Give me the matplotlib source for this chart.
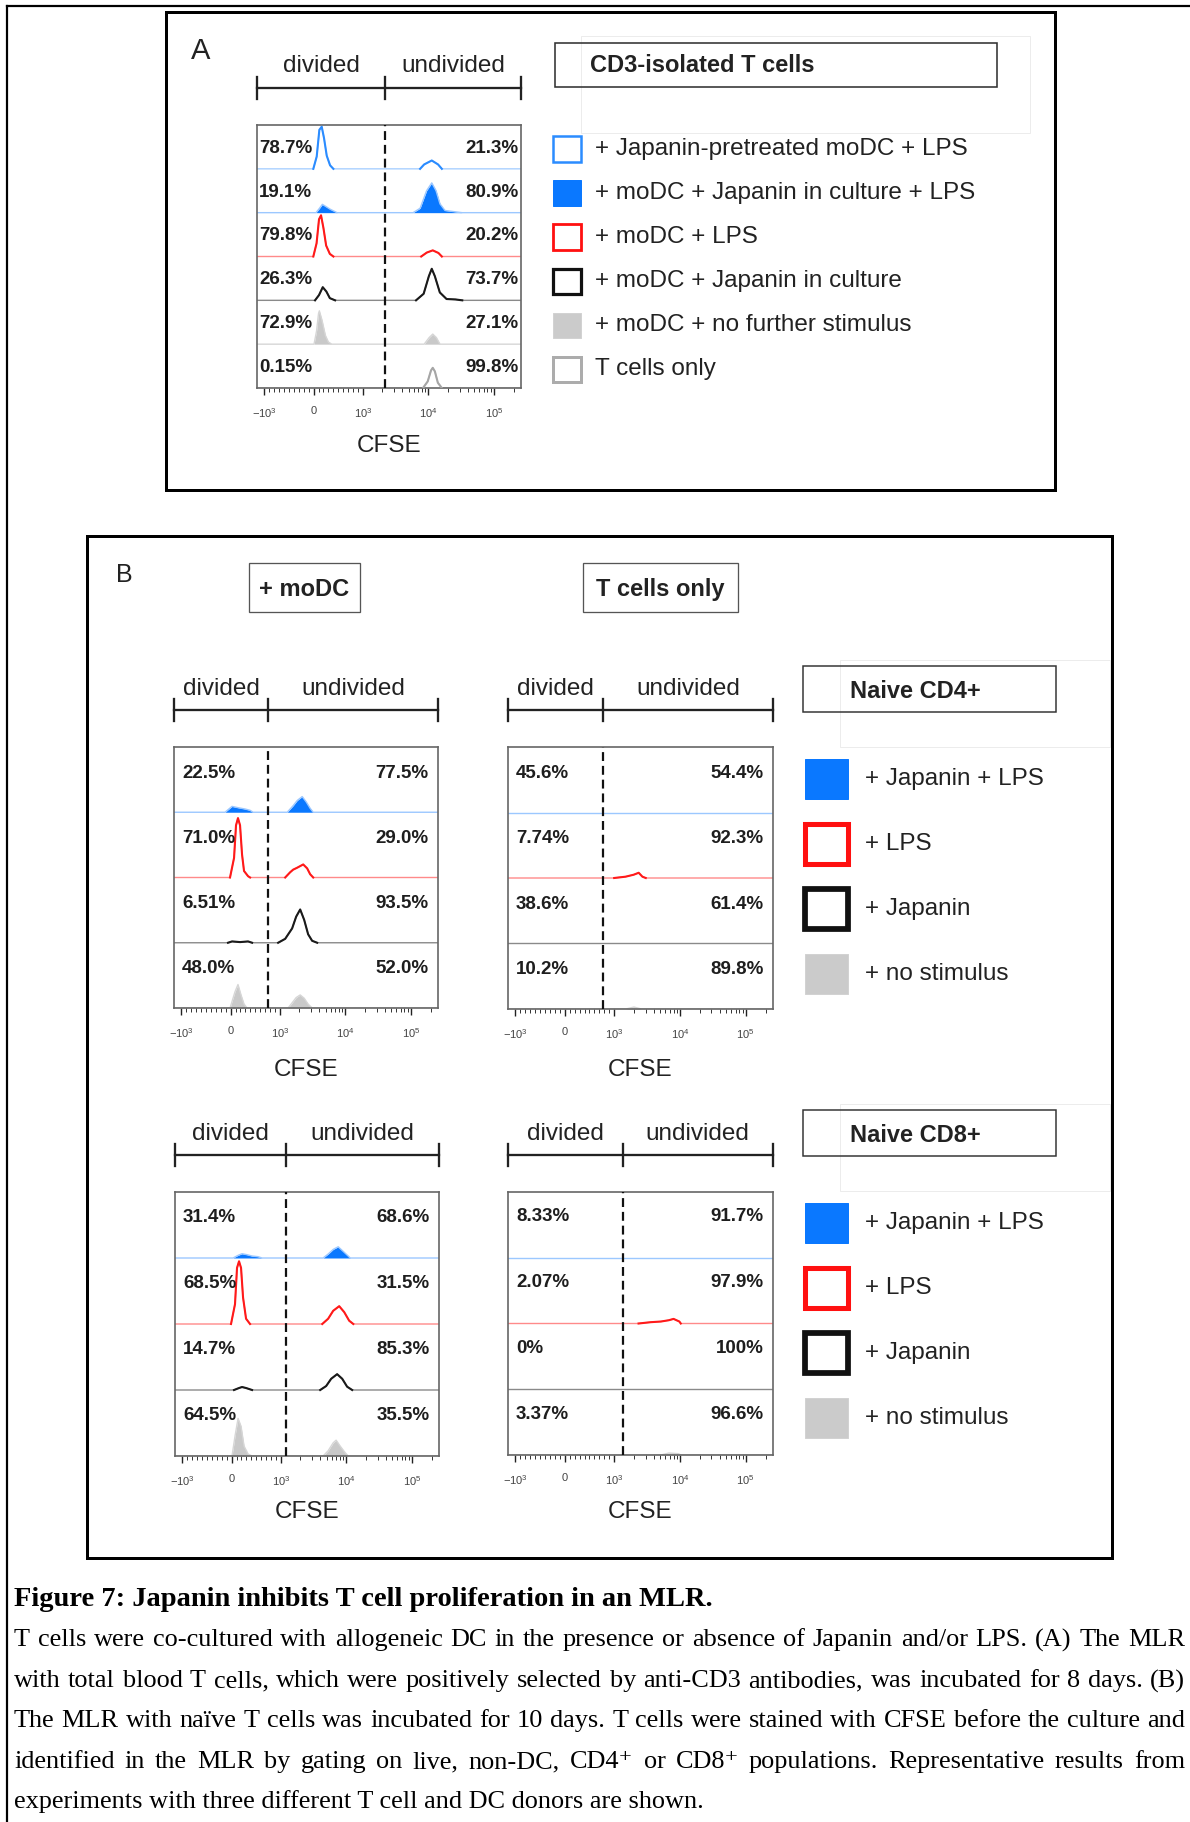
import numpy as np
import matplotlib
matplotlib.use('Agg')
import matplotlib.pyplot as plt
from matplotlib.patches import Rectangle
from matplotlib.lines import Line2D
import matplotlib.ticker as mticker

plt.rcParams['font.family'] = ['Liberation Sans', 'DejaVu Sans']
plt.rcParams['mathtext.fontset'] = 'custom'
plt.rcParams['mathtext.rm'] = 'Liberation Sans'
plt.rcParams['mathtext.it'] = 'Liberation Sans:italic'
plt.rcParams['mathtext.bf'] = 'Liberation Sans:bold'

W, H = 1190, 1822

# ------------------------------------------------------------------ data
cfse_min, cfse_max = -1300, 260000
tick_values = [-1000, 0, 1000, 10000, 100000]
tick_labels = ['$-10^3$', '0', '$10^3$', '$10^4$', '$10^5$']

# Panel A
legend_A = ["+ Japanin-pretreated moDC + LPS", "+ moDC + Japanin in culture + LPS",
            "+ moDC + LPS", "+ moDC + Japanin in culture",
            "+ moDC + no further stimulus", "T cells only"]
styles_A = ['blue_line', 'blue_fill', 'red', 'black', 'gray_fill', 'gray_line']
gate_A = 2190
divided_A = ["78.7%", "19.1%", "79.8%", "26.3%", "72.9%", "0.15%"]
undivided_A = ["21.3%", "80.9%", "20.2%", "73.7%", "27.1%", "99.8%"]
cfse_A = [
    [-1300, -6, 63, 117, 165, 212, 267, 335, 402, 7500, 8650, 11300, 14100, 16100, 260000],
    [-1300, 49, 120, 178, 250, 335, 477, 5860, 7500, 9420, 11300, 13150, 15100, 18000, 32800, 260000],
    [-1300, -6, 60, 110, 151, 200, 255, 330, 402, 7800, 9500, 11700, 14300, 16100, 260000],
    [-1300, 29, 110, 186, 260, 330, 437, 6500, 8500, 10200, 11300, 12600, 15000, 19000, 26000, 33000, 260000],
    [-1300, 8, 60, 100, 117, 170, 240, 300, 369, 8650, 10300, 11700, 13300, 15100, 260000],
    [-1300, 8300, 9800, 11000, 11700, 12600, 14000, 16100, 260000],
]
height_A = [
    [0, 0, 0.28, 0.89, 0.96, 0.70, 0.30, 0.08, 0, 0, 0.10, 0.19, 0.10, 0, 0],
    [0, 0, 0.10, 0.19, 0.14, 0.08, 0, 0, 0.10, 0.50, 0.68, 0.50, 0.20, 0.05, 0, 0],
    [0, 0, 0.30, 0.85, 0.94, 0.65, 0.25, 0.06, 0, 0, 0.09, 0.14, 0.08, 0, 0],
    [0, 0, 0.12, 0.30, 0.20, 0.05, 0, 0, 0.15, 0.55, 0.72, 0.55, 0.18, 0.03, 0.02, 0, 0],
    [0, 0, 0.30, 0.70, 0.76, 0.55, 0.20, 0.05, 0, 0, 0.15, 0.23, 0.15, 0, 0],
    [0, 0, 0.15, 0.40, 0.46, 0.38, 0.12, 0, 0],
]

# Panel B
legend_B = ["+ Japanin + LPS", "+ LPS", "+ Japanin", "+ no stimulus"]
styles_B = ['blue_fill', 'red', 'black', 'gray_fill']

# CD4+, + moDC
gate_CD4_dc = 760
divided_CD4_dc = ["22.5%", "71.0%", "6.51%", "48.0%"]
undivided_CD4_dc = ["77.5%", "29.0%", "93.5%", "52.0%"]
cfse_CD4_dc = [
    [-1300, -114, 29, 151, 294, 396, 457, 1300, 1600, 1845, 2200, 2530, 2910, 3240, 260000],
    [-1300, -12, 70, 110, 150, 192, 233, 273, 355, 396, 1210, 1440, 1600, 1845, 2280, 2620, 2910, 3240, 260000],
    [-1300, -53, 29, 192, 355, 437, 967, 1210, 1545, 1780, 2050, 2360, 2710, 3120, 3720, 260000],
    [-1300, -12, 90, 150, 212, 273, 335, 1340, 1545, 1780, 2050, 2360, 2710, 3120, 260000],
]
height_CD4_dc = [
    [0, 0, 0.09, 0.07, 0.05, 0.03, 0, 0, 0.10, 0.18, 0.24, 0.16, 0.06, 0, 0],
    [0, 0, 0.30, 0.80, 0.91, 0.80, 0.35, 0.10, 0.02, 0, 0, 0.08, 0.12, 0.15, 0.20, 0.14, 0.05, 0, 0],
    [0, 0, 0.02, 0.01, 0.02, 0, 0, 0.06, 0.22, 0.40, 0.51, 0.35, 0.13, 0.03, 0, 0],
    [0, 0, 0.25, 0.36, 0.20, 0.06, 0, 0, 0.08, 0.16, 0.20, 0.15, 0.06, 0, 0],
]

# CD4+, T cells only
gate_CD4_t = 780
divided_CD4_t = ["45.6%", "7.74%", "38.6%", "10.2%"]
undivided_CD4_t = ["54.4%", "92.3%", "61.4%", "89.8%"]
cfse_CD4_t = [
    [-1300, 260000],
    [-1300, 1000, 1490, 1980, 2360, 2690, 3020, 260000],
    [-1300, 260000],
    [-1300, 1500, 2000, 2600, 260000],
]
height_CD4_t = [
    [0, 0],
    [0, 0, 0.02, 0.05, 0.08, 0.02, 0, 0],
    [0, 0],
    [0, 0, 0.03, 0, 0],
]

# CD8+, + moDC
gate_CD8_dc = 1210
divided_CD8_dc = ["31.4%", "68.5%", "14.7%", "64.5%"]
undivided_CD8_dc = ["68.6%", "31.5%", "85.3%", "35.5%"]
cfse_CD8_dc = [
    [-1300, 29, 131, 212, 314, 416, 538, 620, 4430, 5290, 6310, 7530, 8980, 10700, 11500, 260000],
    [-1300, -12, 69, 110, 151, 192, 233, 294, 375, 4300, 5290, 6310, 7800, 9300, 11070, 12800, 260000],
    [-1300, 49, 151, 212, 294, 416, 4000, 4930, 5880, 7250, 8670, 10300, 12300, 260000],
    [-1300, 8, 69, 131, 192, 253, 335, 416, 4430, 5290, 6310, 7000, 8070, 9620, 10700, 260000],
]
height_CD8_dc = [
    [0, 0, 0.04, 0.065, 0.05, 0.03, 0.02, 0, 0, 0.06, 0.13, 0.17, 0.10, 0.03, 0, 0],
    [0, 0, 0.30, 0.85, 0.95, 0.85, 0.40, 0.08, 0, 0, 0.08, 0.20, 0.27, 0.18, 0.05, 0, 0],
    [0, 0, 0.03, 0.045, 0.03, 0, 0, 0.06, 0.17, 0.24, 0.17, 0.05, 0, 0],
    [0, 0, 0.30, 0.57, 0.45, 0.15, 0.03, 0, 0, 0.08, 0.20, 0.24, 0.15, 0.05, 0, 0],
]

# CD8+, T cells only
gate_CD8_t = 1340
divided_CD8_t = ["8.33%", "2.07%", "0%", "3.37%"]
undivided_CD8_t = ["91.7%", "97.9%", "100%", "96.6%"]
cfse_CD8_t = [
    [-1300, 260000],
    [-1300, 2350, 3600, 5140, 6800, 8000, 9800, 10300, 260000],
    [-1300, 260000],
    [-1300, 5140, 6800, 9500, 10300, 260000],
]
height_CD8_t = [
    [0, 0],
    [0, 0, 0.02, 0.03, 0.05, 0.07, 0.03, 0, 0],
    [0, 0],
    [0, 0, 0.03, 0.02, 0, 0],
]

caption_title = "Figure 7: Japanin inhibits T cell proliferation in an MLR."
caption_lines = [
    "T cells were co-cultured with allogeneic DC in the presence or absence of Japanin and/or LPS. (A) The MLR",
    "with total blood T cells, which were positively selected by anti-CD3 antibodies, was incubated for 8 days. (B)",
    "The MLR with naïve T cells was incubated for 10 days. T cells were stained with CFSE before the culture and",
    "identified in the MLR by gating on live, non-DC, CD4⁺ or CD8⁺ populations. Representative results from",
    "experiments with three different T cell and DC donors are shown.",
]

# ------------------------------------------------------------------ styles
STYLE = {
    'blue_line': dict(kind='line', strong='#2b8cff', light='#a9d0ff'),
    'blue_fill': dict(kind='fill', fill='#0a78ff', light='#9cc8ff'),
    'red':       dict(kind='line', strong='#ff1a1a', light='#ff8a8a'),
    'black':     dict(kind='line', strong='#1a1a1a', light='#8a8a8a'),
    'gray_fill': dict(kind='fill', fill='#c9c9c9', light='#d6d6d6'),
    'gray_line': dict(kind='line', strong='#a6a6a6', light='#d0d0d0'),
}

fig = plt.figure(figsize=(W / 100, H / 100), dpi=100)


def fx(px):
    return px / W


def fy(py):
    return 1 - py / H


def pt(px):
    return px * 72 / 100


def rect_px(x0, y0, x1, y1, **kw):
    r = Rectangle((fx(x0), fy(y1)), (x1 - x0) / W, (y1 - y0) / H,
                  transform=fig.transFigure, **kw)
    fig.add_artist(r)


def line_px(xs, ys, **kw):
    fig.add_artist(Line2D([fx(x) for x in xs], [fy(y) for y in ys],
                          transform=fig.transFigure, **kw))


def text_px(x, y, s, **kw):
    return fig.text(fx(x), fy(y), s, **kw)


# ------------------------------------------------------------------ frames
line_px([7, 7], [6, H], color='black', lw=pt(2.2), solid_capstyle='projecting')
line_px([7, W], [6, 6], color='black', lw=pt(2.2), solid_capstyle='projecting')
rect_px(166, 12, 1055, 490, fill=False, ec='black', lw=pt(3))
rect_px(87, 536, 1112, 1558, fill=False, ec='black', lw=pt(3))

minor_ticks = np.concatenate([np.arange(-1000, 1001, 100),
                              np.array([k * 10.0 ** e for e in (3, 4, 5) for k in range(2, 10)])])


def active_segments(xs, ys, hs):
    """Split a curve into the segments that leave the baseline (NaN separated)."""
    sx, sy = [], []
    for i in range(len(xs) - 1):
        if hs[i] > 0 or hs[i + 1] > 0:
            if sx and not np.isnan(sx[-1]) and sx[-1] == xs[i]:
                sx.append(xs[i + 1]); sy.append(ys[i + 1])
            else:
                sx += [np.nan, xs[i], xs[i + 1]]
                sy += [np.nan, ys[i], ys[i + 1]]
    return np.array(sx, float), np.array(sy, float)


def hist_panel(box, xs_rows, hs_rows, styles, gate, left_lbl, right_lbl,
               lbl_off, inset, bracket_y, head_y, cfse_y):
    x0, y0, x1, y1 = box
    ax = fig.add_axes([fx(x0), fy(y1), (x1 - x0) / W, (y1 - y0) / H])
    ax.set_xscale('symlog', linthresh=1000, linscale=0.675)
    ax.set_xlim(cfse_min, cfse_max)
    n = len(xs_rows)
    ax.set_ylim(0, n)
    ax.set_yticks([])
    ax.set_xticks(tick_values, tick_labels)
    ax.xaxis.set_minor_locator(mticker.FixedLocator(minor_ticks))
    ax.tick_params(axis='x', which='major', length=5, width=1.0, color='#222',
                   pad=8, labelsize=8, labelcolor='#444')
    ax.tick_params(axis='x', which='minor', length=3, width=0.7, color='#333')
    for s in ax.spines.values():
        s.set_color('#666')
        s.set_linewidth(1.2)

    for k, (xs, hs, st) in enumerate(zip(xs_rows, hs_rows, styles)):
        base = n - 1 - k
        xs = np.asarray(xs, float)
        hs = np.asarray(hs, float)
        y = base + hs
        sty = STYLE[st]
        if sty['kind'] == 'fill':
            ax.fill_between(xs, base, y, color=sty['fill'], lw=0, zorder=2)
            ax.plot(xs, y, color=sty['light'], lw=1.0, zorder=2)
        else:
            ax.plot(xs, y, color=sty['light'], lw=1.0, zorder=2)
            sx, sy = active_segments(xs, y, hs)
            if len(sx):
                ax.plot(sx, sy, color=sty['strong'], lw=1.5, zorder=3)
        ax.text(inset, base + lbl_off, left_lbl[k], transform=ax.get_yaxis_transform(),
                ha='left', va='center', fontsize=13.5, fontweight='bold', color='#1e1e1e', zorder=6)
        ax.text(1 - inset * 1.2, base + lbl_off, right_lbl[k], transform=ax.get_yaxis_transform(),
                ha='right', va='center', fontsize=13.5, fontweight='bold', color='#1e1e1e', zorder=6)

    ax.axvline(gate, color='#111', lw=1.6, dashes=(4, 2.2), zorder=5)

    # bracket and headers
    gfrac = (ax.transScale + ax.transLimits).transform((gate, 0))[0]
    gx = x0 + gfrac * (x1 - x0)
    line_px([x0, x1], [bracket_y, bracket_y], color='#222', lw=pt(2.3))
    for xx in (x0, gx, x1):
        line_px([xx, xx], [bracket_y - 11, bracket_y + 11], color='#222', lw=pt(2.3))
    text_px((x0 + gx) / 2, head_y, 'divided', ha='center', va='center', fontsize=17.5, color='#222')
    text_px((gx + x1) / 2, head_y, 'undivided', ha='center', va='center', fontsize=17.5, color='#222')
    text_px((x0 + x1) / 2, cfse_y, 'CFSE', ha='center', va='center', fontsize=17.5, color='#222')
    return ax


LEG_STYLE = {
    'blue_line': dict(fc='white', ec='#2b8cff', lw=2.5),
    'blue_fill': dict(fc='#0a78ff', ec='#0a78ff', lw=1),
    'red':       dict(fc='white', ec='#ff1010', lw=2.8),
    'black':     dict(fc='white', ec='#111111', lw=3.2),
    'gray_fill': dict(fc='#cbcbcb', ec='#d2d2d2', lw=1),
    'gray_line': dict(fc='white', ec='#acacac', lw=3.0),
}


def legend(labels, styles, x0, size, centers, text_x, fs, lw_scale=1.0):
    w, h = size
    for lab, st, cy in zip(labels, styles, centers):
        s = LEG_STYLE[st]
        rect_px(x0, cy - h / 2, x0 + w, cy + h / 2, fc=s['fc'], ec=s['ec'],
                lw=pt(s['lw'] * (lw_scale if s['fc'] == 'white' else 1)))
        text_px(text_x, cy, lab, ha='left', va='center', fontsize=fs, color='#222')


# ------------------------------------------------------------------ panel A
text_px(201, 51, 'A', ha='center', va='center', fontsize=21, color='#222')
hist_panel((257, 125, 521, 388), cfse_A, height_A, styles_A, gate_A, divided_A, undivided_A,
           lbl_off=0.47, inset=0.008, bracket_y=88, head_y=66, cfse_y=446)
rect_px(581, 36, 1030, 133, fill=False, ec='#ececec', lw=pt(1))
rect_px(555, 43, 997, 87, fill=False, ec='#333', lw=pt(1.6))
text_px(590, 66, 'CD3-isolated T cells', ha='left', va='center', fontsize=17,
        fontweight='bold', color='#222')
legend(legend_A, styles_A, 553, (28, 25), [149, 193, 237, 281, 325, 369], 595, 17.5)

# ------------------------------------------------------------------ panel B
text_px(124, 575, 'B', ha='center', va='center', fontsize=18, color='#222')
rect_px(249, 563, 360, 612, fill=False, ec='#555', lw=pt(1.3))
text_px(304.5, 589, '+ moDC', ha='center', va='center', fontsize=17, fontweight='bold', color='#222')
rect_px(583, 563, 738, 612, fill=False, ec='#555', lw=pt(1.3))
text_px(660.5, 589, 'T cells only', ha='center', va='center', fontsize=17, fontweight='bold', color='#222')

hist_panel((174, 747, 438, 1008), cfse_CD4_dc, height_CD4_dc, styles_B, gate_CD4_dc,
           divided_CD4_dc, undivided_CD4_dc, lbl_off=0.6, inset=0.03,
           bracket_y=710, head_y=689, cfse_y=1070)
hist_panel((508, 747, 773, 1009), cfse_CD4_t, height_CD4_t, styles_B, gate_CD4_t,
           divided_CD4_t, undivided_CD4_t, lbl_off=0.6, inset=0.03,
           bracket_y=710, head_y=689, cfse_y=1070)
hist_panel((175, 1192, 439, 1456), cfse_CD8_dc, height_CD8_dc, styles_B, gate_CD8_dc,
           divided_CD8_dc, undivided_CD8_dc, lbl_off=0.62, inset=0.03,
           bracket_y=1155, head_y=1134, cfse_y=1512)
hist_panel((508, 1192, 773, 1455), cfse_CD8_t, height_CD8_t, styles_B, gate_CD8_t,
           divided_CD8_t, undivided_CD8_t, lbl_off=0.62, inset=0.03,
           bracket_y=1155, head_y=1134, cfse_y=1512)

for title, dy in (('Naive CD4+', 0), ('Naive CD8+', 444)):
    rect_px(840, 660 + dy, 1110, 747 + dy, fill=False, ec='#ececec', lw=pt(1))
    rect_px(803, 666 + dy, 1056, 712 + dy, fill=False, ec='#333', lw=pt(1.5))
    text_px(850, 691 + dy, title, ha='left', va='center', fontsize=17,
            fontweight='bold', color='#222')
    legend(legend_B, styles_B, 805, (43, 40), [779 + dy, 844 + dy, 909 + dy, 974 + dy],
           865, 17.5, lw_scale=1.8)

# ------------------------------------------------------------------ caption
SERIF = ['Liberation Serif', 'DejaVu Serif']
renderer = fig.canvas.get_renderer()
probe = [text_px(0, 0, ln, fontsize=19.5, family=SERIF) for ln in caption_lines[:-1]]
max_w = max(t.get_window_extent(renderer).width for t in probe)
for t in probe:
    t.remove()
CAP_FS = min(19.5, 19.5 * 1160 / max_w)

text_px(14, 1600, caption_title, ha='left', va='center', fontsize=20.5,
        fontweight='bold', family=SERIF, color='black')
line_y = [1640, 1681, 1721, 1762, 1802]
for i, (ln, yy) in enumerate(zip(caption_lines, line_y)):
    if i == len(caption_lines) - 1:
        text_px(14, yy, ln, ha='left', va='center', fontsize=CAP_FS, family=SERIF, color='black')
        continue
    words = ln.split(' ')
    ts = [text_px(0, yy, wd, ha='left', va='center', fontsize=CAP_FS, family=SERIF,
                  color='black') for wd in words]
    widths = [t.get_window_extent(renderer).width for t in ts]
    gap = (1185 - 14 - sum(widths)) / (len(words) - 1)
    xx = 14
    for t, wd in zip(ts, widths):
        t.set_x(fx(xx))
        xx += wd + gap

fig.savefig('out.png', dpi=100)
